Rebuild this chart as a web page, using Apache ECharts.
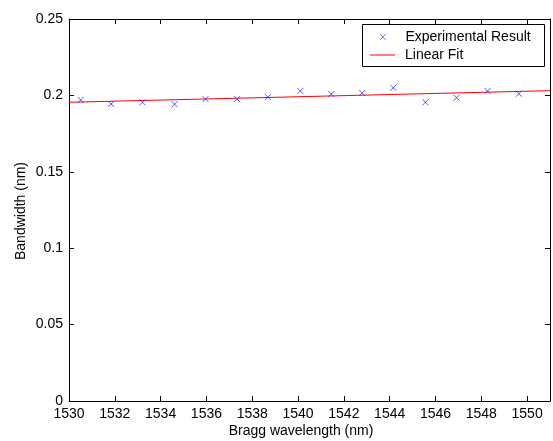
<!DOCTYPE html>
<html>
<head>
<meta charset="utf-8">
<script src="https://cdn.jsdelivr.net/npm/echarts@6/dist/echarts.min.js"></script>
<style>
html,body{margin:0;padding:0;background:#fff;}
#chart{width:553px;height:441px;}
</style>
</head>
<body>
<div id="chart"></div>
<script>
// Data
const wavelengths = [1530.51, 1531.84, 1533.21, 1534.61, 1535.96, 1537.34, 1538.68, 1540.10, 1541.45, 1542.80, 1544.16, 1545.56, 1546.92, 1548.27, 1549.64];
const bandwidths = [0.1970, 0.1944, 0.1955, 0.1942, 0.1976, 0.1976, 0.1988, 0.2029, 0.2009, 0.2016, 0.2050, 0.1955, 0.1985, 0.2029, 0.2011];
const fitX = [1530, 1551];
const fitY = [0.1955, 0.2031];
const xTickLabels = ['1530','1532','1534','1536','1538','1540','1542','1544','1546','1548','1550'];
const yTickLabels = ['0','0.05','0.1','0.15','0.2','0.25'];
const seriesNames = ['Experimental Result', 'Linear Fit'];
const xTitle = 'Bragg wavelength (nm)';
const yTitle = 'Bandwidth (nm)';

const FONT = 'Arial, "Liberation Sans", Helvetica, sans-serif';
const FS = 14;
const chart = echarts.init(document.getElementById('chart'), null, {renderer: 'canvas'});

const xLabelMap = {};
xTickLabels.forEach(l => { xLabelMap[Number(l)] = l; });
const yLabelMap = {};
yTickLabels.forEach(l => { yLabelMap[Number(l).toFixed(2)] = l; });

const axisCommon = {
  axisLine: {show: true, onZero: false, lineStyle: {color: '#000', width: 1}},
  axisTick: {show: true, inside: true, length: 5, lineStyle: {color: '#000', width: 1}},
  splitLine: {show: false}
};

const markerColor = '#2a2aff';

const option = {
  backgroundColor: '#fff',
  animation: false,
  grid: {left: 69, top: 19, width: 486, height: 382, containLabel: false},
  xAxis: [
    Object.assign({
      type: 'value', min: 1530, max: 1551, interval: 2, position: 'bottom',
      axisLabel: {show: true, margin: 6, color: '#000', fontFamily: FONT, fontSize: FS,
        showMaxLabel: true,
        formatter: v => (xLabelMap[Math.round(v)] !== undefined ? xLabelMap[Math.round(v)] : '')}
    }, axisCommon),
    Object.assign({
      type: 'value', min: 1530, max: 1551, interval: 2, position: 'top',
      axisLabel: {show: false}
    }, axisCommon)
  ],
  yAxis: [
    Object.assign({
      type: 'value', min: 0, max: 0.25, interval: 0.05, position: 'left',
      axisLabel: {show: true, margin: 6, color: '#000', fontFamily: FONT, fontSize: FS,
        formatter: v => (yLabelMap[v.toFixed(2)] !== undefined ? yLabelMap[v.toFixed(2)] : '')}
    }, axisCommon),
    Object.assign({
      type: 'value', min: 0, max: 0.25, interval: 0.05, position: 'right',
      axisLabel: {show: false}
    }, axisCommon)
  ],
  legend: [
    {
      data: [{name: seriesNames[0],
        itemStyle: {color: 'rgba(0,0,0,0)', borderColor: markerColor, borderWidth: 0.8}}],
      left: 379.5, top: 30, padding: 0,
      itemWidth: 25, itemHeight: 6, z: 10,
      textStyle: {color: '#000', fontFamily: FONT, fontSize: FS, padding: [0, 0, 0, 5]}
    },
    {
      data: [{name: seriesNames[1], icon: 'rect'}], left: 370, top: 48, padding: 0,
      itemWidth: 25, itemHeight: 1, z: 10,
      textStyle: {color: '#000', fontFamily: FONT, fontSize: FS, padding: [0, 0, 0, 5]}
    }
  ],
  graphic: [
    {type: 'rect', z: 5, shape: {x: 362.5, y: 24.5, width: 182, height: 42},
      style: {fill: '#fff', stroke: '#000', lineWidth: 1}},
    {type: 'text', x: 301, y: 431, z: 5,
      style: {text: xTitle, fill: '#000', font: FS + 'px ' + FONT, align: 'center', verticalAlign: 'middle'}},
    {type: 'text', x: 21, y: 211, rotation: Math.PI / 2, z: 5,
      style: {text: yTitle, fill: '#000', font: FS + 'px ' + FONT, align: 'center', verticalAlign: 'middle'}}
  ],
  series: [
    {
      name: seriesNames[0], type: 'scatter',
      xAxisIndex: 0, yAxisIndex: 0,
      symbol: 'path://M0,0L10,10M0,10L10,0', symbolSize: 6,
      itemStyle: {color: 'rgba(0,0,0,0)', borderColor: markerColor, borderWidth: 1},
      data: wavelengths.map((x, i) => [x, bandwidths[i]]),
      z: 3
    },
    {
      name: seriesNames[1], type: 'line',
      xAxisIndex: 0, yAxisIndex: 0,
      symbol: 'none', showSymbol: false,
      lineStyle: {color: '#ff0000', width: 1},
      itemStyle: {color: '#ff0000'},
      data: fitX.map((x, i) => [x, fitY[i]]),
      z: 2
    }
  ]
};
chart.setOption(option);
</script>
</body>
</html>
